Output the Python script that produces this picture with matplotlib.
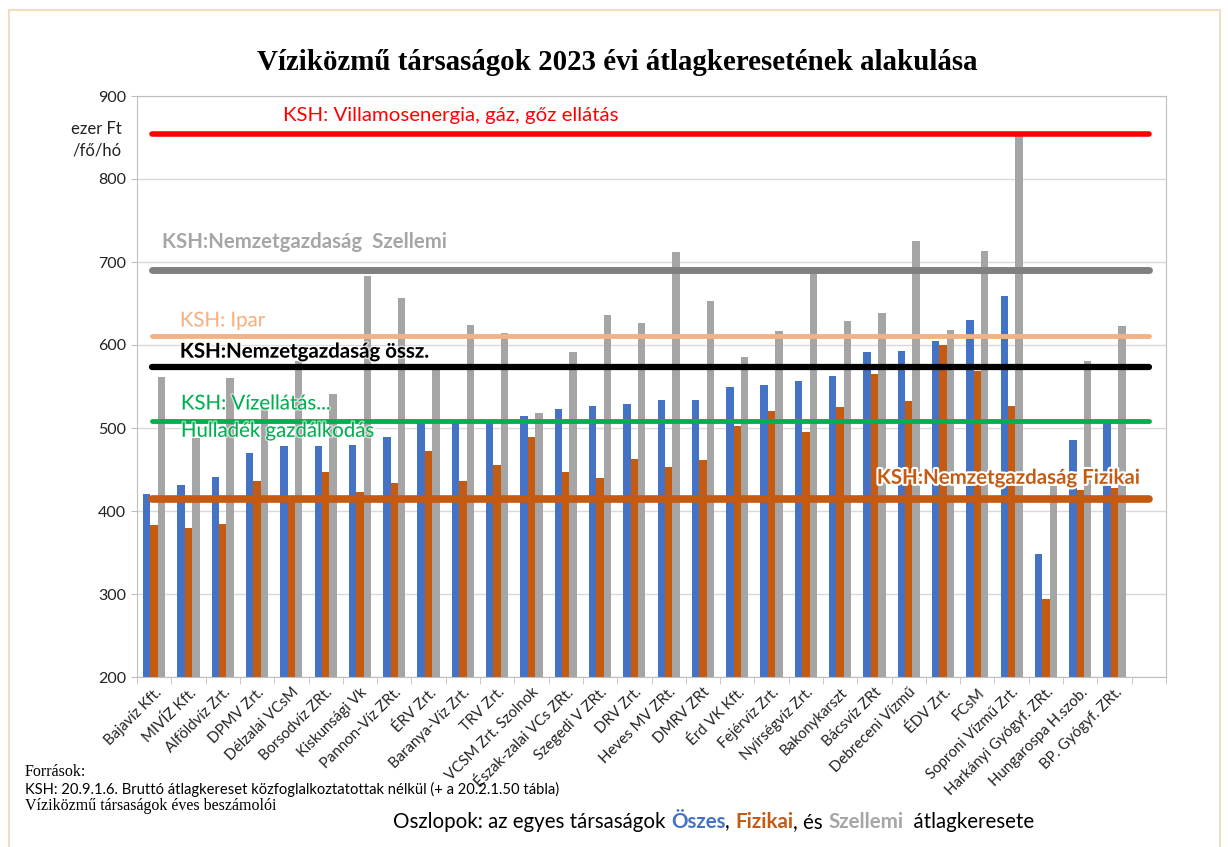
import matplotlib
matplotlib.use("Agg")
import matplotlib.pyplot as plt
import matplotlib.patheffects as pe
from matplotlib.patches import Rectangle
import numpy as np

plt.rcParams['font.family'] = ['Lato', 'DejaVu Sans']

companies = ["Bajavíz Kft.", "MIVÍZ Kft.", "Alföldvíz Zrt.", "DPMV Zrt.", "Délzalai VCsM",
             "Borsodvíz ZRt.", "Kiskunsági Vk", "Pannon-Víz ZRt.", "ÉRV Zrt.", "Baranya-Víz Zrt.",
             "TRV Zrt.", "VCSM Zrt. Szolnok", "Észak-zalai VCs ZRt.", "Szegedi V ZRt.", "DRV Zrt.",
             "Heves MV ZRt.", "DMRV ZRt", "Érd VK Kft.", "Fejérvíz Zrt.", "Nyírségvíz Zrt.",
             "Bakonykarszt", "Bácsvíz ZRt", "Debreceni Vízmű", "ÉDV Zrt.", "FCsM",
             "Soproni Vízmű Zrt.", "Harkányi Gyógyf. ZRt.", "Hungarospa H.szob.", "BP. Gyógyf. ZRt."]
osszes = [421, 431, 441, 470, 478, 478, 479, 489, 508, 508, 508, 515, 523, 526, 529,
          534, 534, 549, 552, 557, 563, 591, 593, 605, 630, 659, 348, 486, 508]
fizikai = [383, 379, 384, 436, 414, 447, 423, 434, 472, 436, 455, 489, 447, 440, 463,
           453, 462, 503, 520, 495, 525, 565, 533, 600, 569, 527, 294, 425, 428]
szellemi = [562, 488, 560, 525, 581, 541, 683, 657, 575, 624, 615, 518, 591, 636, 627,
            712, 653, 586, 617, 686, 629, 639, 725, 618, 713, 857, 430, 581, 623]

# KSH reference levels
ksh_names = ["KSH: Villamosenergia, gáz, gőz ellátás", "KSH:Nemzetgazdaság  Szellemi", "KSH: Ipar",
             "KSH:Nemzetgazdaság össz.", "KSH: Vízellátás...", "Hulladék gazdálkodás",
             "KSH:Nemzetgazdaság Fizikai"]
ksh_values = [854, 690, 611, 574, 509, 414]

c_blue, c_orange, c_gray = '#4472c4', '#c55a11', '#a5a5a5'

fig = plt.figure(figsize=(12.28, 8.47), dpi=100)
fig.patches.append(Rectangle((9 / 1228, -0.01), 1211 / 1228, 1 - 10 / 847 + 0.01,
                             transform=fig.transFigure, fill=False, edgecolor='#f2dcc2', lw=1.5))
ax = fig.add_axes([137 / 1228, 1 - 677 / 847, 1029 / 1228, 581 / 847])

x = np.arange(len(companies))
w = 0.215
ax.bar(x - w, osszes, w, color=c_blue, zorder=2)
ax.bar(x, fizikai, w, color=c_orange, zorder=2)
ax.bar(x + w, szellemi, w, color=c_gray, zorder=2)

ax.set_xlim(-0.5, 29.5)
ax.set_ylim(200, 900)
ax.set_yticks(range(200, 901, 100))
ax.grid(axis='y', color='#d9d9d9', lw=1, zorder=0)
ax.set_axisbelow(True)
for s in ax.spines.values():
    s.set_color('#bfbfbf')
ax.tick_params(axis='y', length=4, color='#bfbfbf', labelsize=11.5, pad=4, labelcolor='#222222')
ax.set_xticks(x)
ax.set_xticklabels(companies, rotation=45, ha='right', rotation_mode='anchor', fontsize=10.8,
                   color='#222222')
ax.tick_params(axis='x', length=0, pad=6)
ax.set_xticks(np.arange(-0.5, 30, 1), minor=True)
ax.tick_params(axis='x', which='minor', length=5, color='#bfbfbf')

# reference lines
line_styles = [('#ff0000', 4), ('#808080', 5), ('#f4b183', 3.5), ('#000000', 4.5), ('#00b050', 3.5),
               ('#c55a11', 5.5)]
for val, (col, lw) in zip(ksh_values, line_styles):
    ax.plot([-0.05, 29.0], [val, val], color=col, lw=lw, solid_capstyle='round', zorder=4)

fs = 14.7
halo = [pe.withStroke(linewidth=2, foreground='white', alpha=0.6)]
ax.text(3.76, 877, ksh_names[0], color='#ff0000', fontsize=fs, va='center', zorder=5)
ax.text(0.23, 724, ksh_names[1], color='#a6a6a6', fontsize=fs, fontweight='bold', va='center', zorder=5)
ax.text(0.75, 629, ksh_names[2], color='#f4b183', fontsize=fs, va='center', zorder=5, path_effects=halo)
ax.text(0.75, 592, ksh_names[3], color='black', fontsize=fs, fontweight='bold', va='center', zorder=5,
        path_effects=halo)
ax.text(0.78, 529, ksh_names[4], color='#00b050', fontsize=fs, va='center', zorder=5, path_effects=halo)
ax.text(0.78, 496, ksh_names[5], color='#00b050', fontsize=fs, va='center', zorder=5, path_effects=halo)
ax.text(21.07, 440, ksh_names[6], color='#c55a11', fontsize=fs, fontweight='bold', va='center', zorder=5,
        path_effects=[pe.withStroke(linewidth=3, foreground='white')])

fig.text(617 / 1228, 1 - 62 / 847, "Víziközmű társaságok 2023 évi átlagkeresetének alakulása",
         family='Liberation Serif', fontweight='bold', fontsize=20.8, ha='center', va='center')
fig.text(122 / 1228, 1 - 140 / 847, "ezer Ft\n/fő/hó", fontsize=12, ha='right', va='center',
         linespacing=1.4, color='#222222')

fig.text(25 / 1228, 1 - 772 / 847, "Források:", family='Liberation Serif', fontsize=11.5, va='center')
fig.text(25 / 1228, 1 - 789 / 847,
         "KSH: 20.9.1.6. Bruttó átlagkereset közfoglalkoztatottak nélkül (+ a 20.2.1.50 tábla)",
         fontsize=10.6, va='center')
fig.text(25 / 1228, 1 - 806 / 847, "Víziközmű társaságok éves beszámolói", family='Liberation Serif',
         fontsize=11.5, va='center')

# legend sentence, coloured words
parts = [("Oszlopok: az egyes társaságok ", 'black', 'normal'), ("Öszes", c_blue, 'bold'),
         (", ", 'black', 'normal'), ("Fizikai", c_orange, 'bold'), (", és ", 'black', 'normal'),
         ("Szellemi", '#a6a6a6', 'bold'), ("  átlagkeresete", 'black', 'normal')]
renderer = fig.canvas.get_renderer()
xpos = 393
for txt, col, wt in parts:
    t = fig.text(xpos / 1228, 1 - 822 / 847, txt, color=col, fontweight=wt, fontsize=14.8, va='center')
    xpos += t.get_window_extent(renderer).width

fig.savefig('out.png', dpi=100)
